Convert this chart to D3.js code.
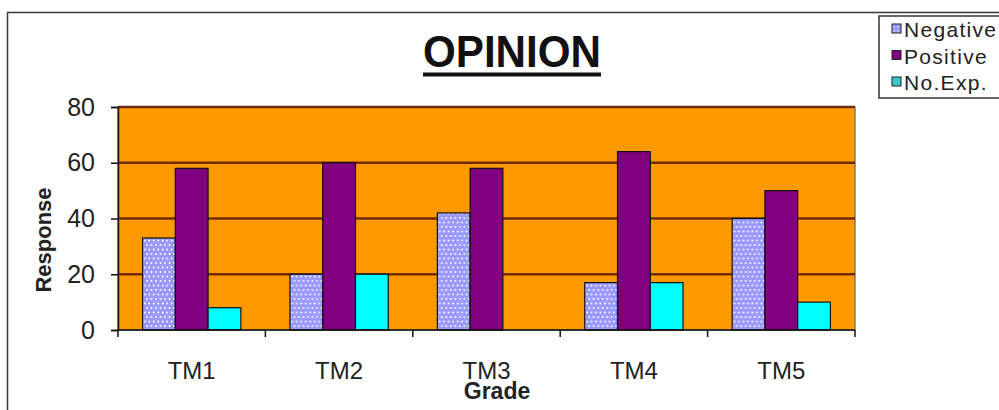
<!DOCTYPE html>
<html>
<head>
<meta charset="utf-8">
<script src="https://cdn.jsdelivr.net/npm/d3@7"></script>
<style>
  html, body { margin: 0; padding: 0; background: #fff; }
  svg { display: block; font-family: Arial, "Liberation Sans", sans-serif; }
</style>
</head>
<body>
<svg id="chart" width="999" height="410"></svg>
<script>
// Survey responses per grade
const grades = ["TM1", "TM2", "TM3", "TM4", "TM5"];
const seriesNames = ["Negative", "Positive", "No.Exp."];
const negative = [33, 20, 42, 17, 40];
const positive = [58, 60, 58, 64, 50];
const noExp = [8, 20, 0, 17, 10];
const yTicks = [0, 20, 40, 60, 80];

const seriesValues = [negative, positive, noExp];
const fills = ["url(#dots)", "#800080", "#00FFFF"];
const legendFills = ["url(#dotsSmall)", "#800080", "#33CCCC"];

const svg = d3.select("#chart");
const defs = svg.append("defs");

// Dotted fill for the Negative series
const pat = defs.append("pattern")
  .attr("id", "dots").attr("patternUnits", "userSpaceOnUse")
  .attr("width", 9).attr("height", 9);
pat.append("rect").attr("width", 9).attr("height", 9).attr("fill", "#9999FF");
[[2, 2], [6.5, 2], [4.25, 6.5], [8.75, 6.5], [-0.25, 6.5]].forEach(([cx, cy]) =>
  pat.append("circle").attr("cx", cx).attr("cy", cy).attr("r", 0.9).attr("fill", "#fff"));
const pat2 = defs.append("pattern")
  .attr("id", "dotsSmall").attr("patternUnits", "userSpaceOnUse")
  .attr("width", 4).attr("height", 4);
pat2.append("rect").attr("width", 4).attr("height", 4).attr("fill", "#9999FF");
pat2.append("circle").attr("cx", 2).attr("cy", 2).attr("r", 0.7).attr("fill", "#fff");

// Outer chart frame
svg.append("rect")
  .attr("x", 7.5).attr("y", 12.5).attr("width", 1010).attr("height", 420)
  .attr("fill", "#fff").attr("stroke", "#3a3a3a").attr("stroke-width", 1.5);

const plot = { left: 118, right: 855, top: 107, bottom: 330 };

const x0 = d3.scaleBand().domain(grades).range([plot.left, plot.right]).padding(0);
const x1 = d3.scaleBand().domain(seriesNames).range([0, x0.bandwidth()])
  .paddingInner(0).paddingOuter(0.75);
const y = d3.scaleLinear().domain([0, 80]).range([plot.bottom, plot.top]);

// Plot area background
svg.append("rect")
  .attr("x", plot.left).attr("y", plot.top)
  .attr("width", plot.right - plot.left).attr("height", plot.bottom - plot.top)
  .attr("fill", "#FF9900").attr("stroke", "#8a7a66").attr("stroke-width", 1.5);

// Horizontal gridlines
svg.append("g").selectAll("line")
  .data(yTicks.filter(d => d > 0))
  .join("line")
  .attr("x1", plot.left).attr("x2", plot.right)
  .attr("y1", d => y(d)).attr("y2", d => y(d))
  .attr("stroke", "#702e00").attr("stroke-width", 2.5);

// Bars
const groups = svg.append("g").selectAll("g")
  .data(grades)
  .join("g")
  .attr("transform", d => `translate(${x0(d)},0)`);

groups.selectAll("rect")
  .data((g, i) => seriesNames.map((s, k) => ({ s, k, v: seriesValues[k][i] })))
  .join("rect")
  .filter(d => d.v > 0)
  .attr("x", d => x1(d.s))
  .attr("y", d => y(d.v))
  .attr("width", x1.bandwidth())
  .attr("height", d => y(0) - y(d.v))
  .attr("fill", d => fills[d.k])
  .attr("stroke", "#111").attr("stroke-width", 1.2);

// Y axis
const yAxis = d3.axisLeft(y).tickValues(yTicks).tickSize(7).tickPadding(16);
const gy = svg.append("g").attr("transform", `translate(${plot.left},0)`).call(yAxis);
gy.select(".domain").attr("stroke", "#111").attr("stroke-width", 1.5);
gy.selectAll(".tick line").attr("stroke", "#111").attr("stroke-width", 1.5);
gy.selectAll(".tick text").attr("font-size", 25).attr("fill", "#222")
  .attr("font-family", "Arial, 'Liberation Sans', sans-serif");

// X axis with ticks at category boundaries
const bounds = grades.map(g => x0(g)).concat([plot.right]);
const gx = svg.append("g").attr("transform", `translate(0,${plot.bottom})`);
gx.append("line").attr("x1", plot.left).attr("x2", plot.right)
  .attr("stroke", "#111").attr("stroke-width", 1.5);
gx.selectAll("line.tk").data(bounds).join("line").attr("class", "tk")
  .attr("x1", d => d).attr("x2", d => d).attr("y1", 0).attr("y2", 7)
  .attr("stroke", "#111").attr("stroke-width", 1.5);
gx.selectAll("text").data(grades).join("text")
  .attr("x", d => x0(d) + x0.bandwidth() / 2)
  .attr("y", 49)
  .attr("text-anchor", "middle")
  .attr("font-size", 24).attr("fill", "#222")
  .text(d => d);

// Title with a heavy underline
svg.append("text")
  .attr("x", 512).attr("y", 67)
  .attr("text-anchor", "middle")
  .attr("font-size", 45).attr("font-weight", "bold").attr("fill", "#111")
  .attr("textLength", 178).attr("lengthAdjust", "spacingAndGlyphs")
  .text("OPINION");
svg.append("line")
  .attr("x1", 423).attr("x2", 601).attr("y1", 74.5).attr("y2", 74.5)
  .attr("stroke", "#111").attr("stroke-width", 4);

// Axis titles
svg.append("text")
  .attr("transform", "translate(51,240) rotate(-90)")
  .attr("text-anchor", "middle")
  .attr("font-size", 22).attr("font-weight", "bold").attr("fill", "#222")
  .text("Response");
svg.append("text")
  .attr("x", 497).attr("y", 399)
  .attr("text-anchor", "middle")
  .attr("font-size", 23).attr("font-weight", "bold").attr("fill", "#222")
  .text("Grade");

// Legend
const lg = svg.append("g");
lg.append("rect")
  .attr("x", 879).attr("y", 16).attr("width", 140).attr("height", 82)
  .attr("fill", "#fff").attr("stroke", "#333").attr("stroke-width", 1.5);
const items = lg.selectAll("g.item").data(seriesNames).join("g").attr("class", "item")
  .attr("transform", (d, i) => `translate(0,${37 + i * 26.5})`);
items.append("rect")
  .attr("x", 892).attr("y", -13).attr("width", 9).attr("height", 9)
  .attr("fill", (d, i) => legendFills[i]).attr("stroke", "#222").attr("stroke-width", 1);
items.append("text")
  .attr("x", 904).attr("y", 0)
  .attr("font-size", 21).attr("letter-spacing", 1.3).attr("fill", "#222")
  .text(d => d);
</script>
</body>
</html>
